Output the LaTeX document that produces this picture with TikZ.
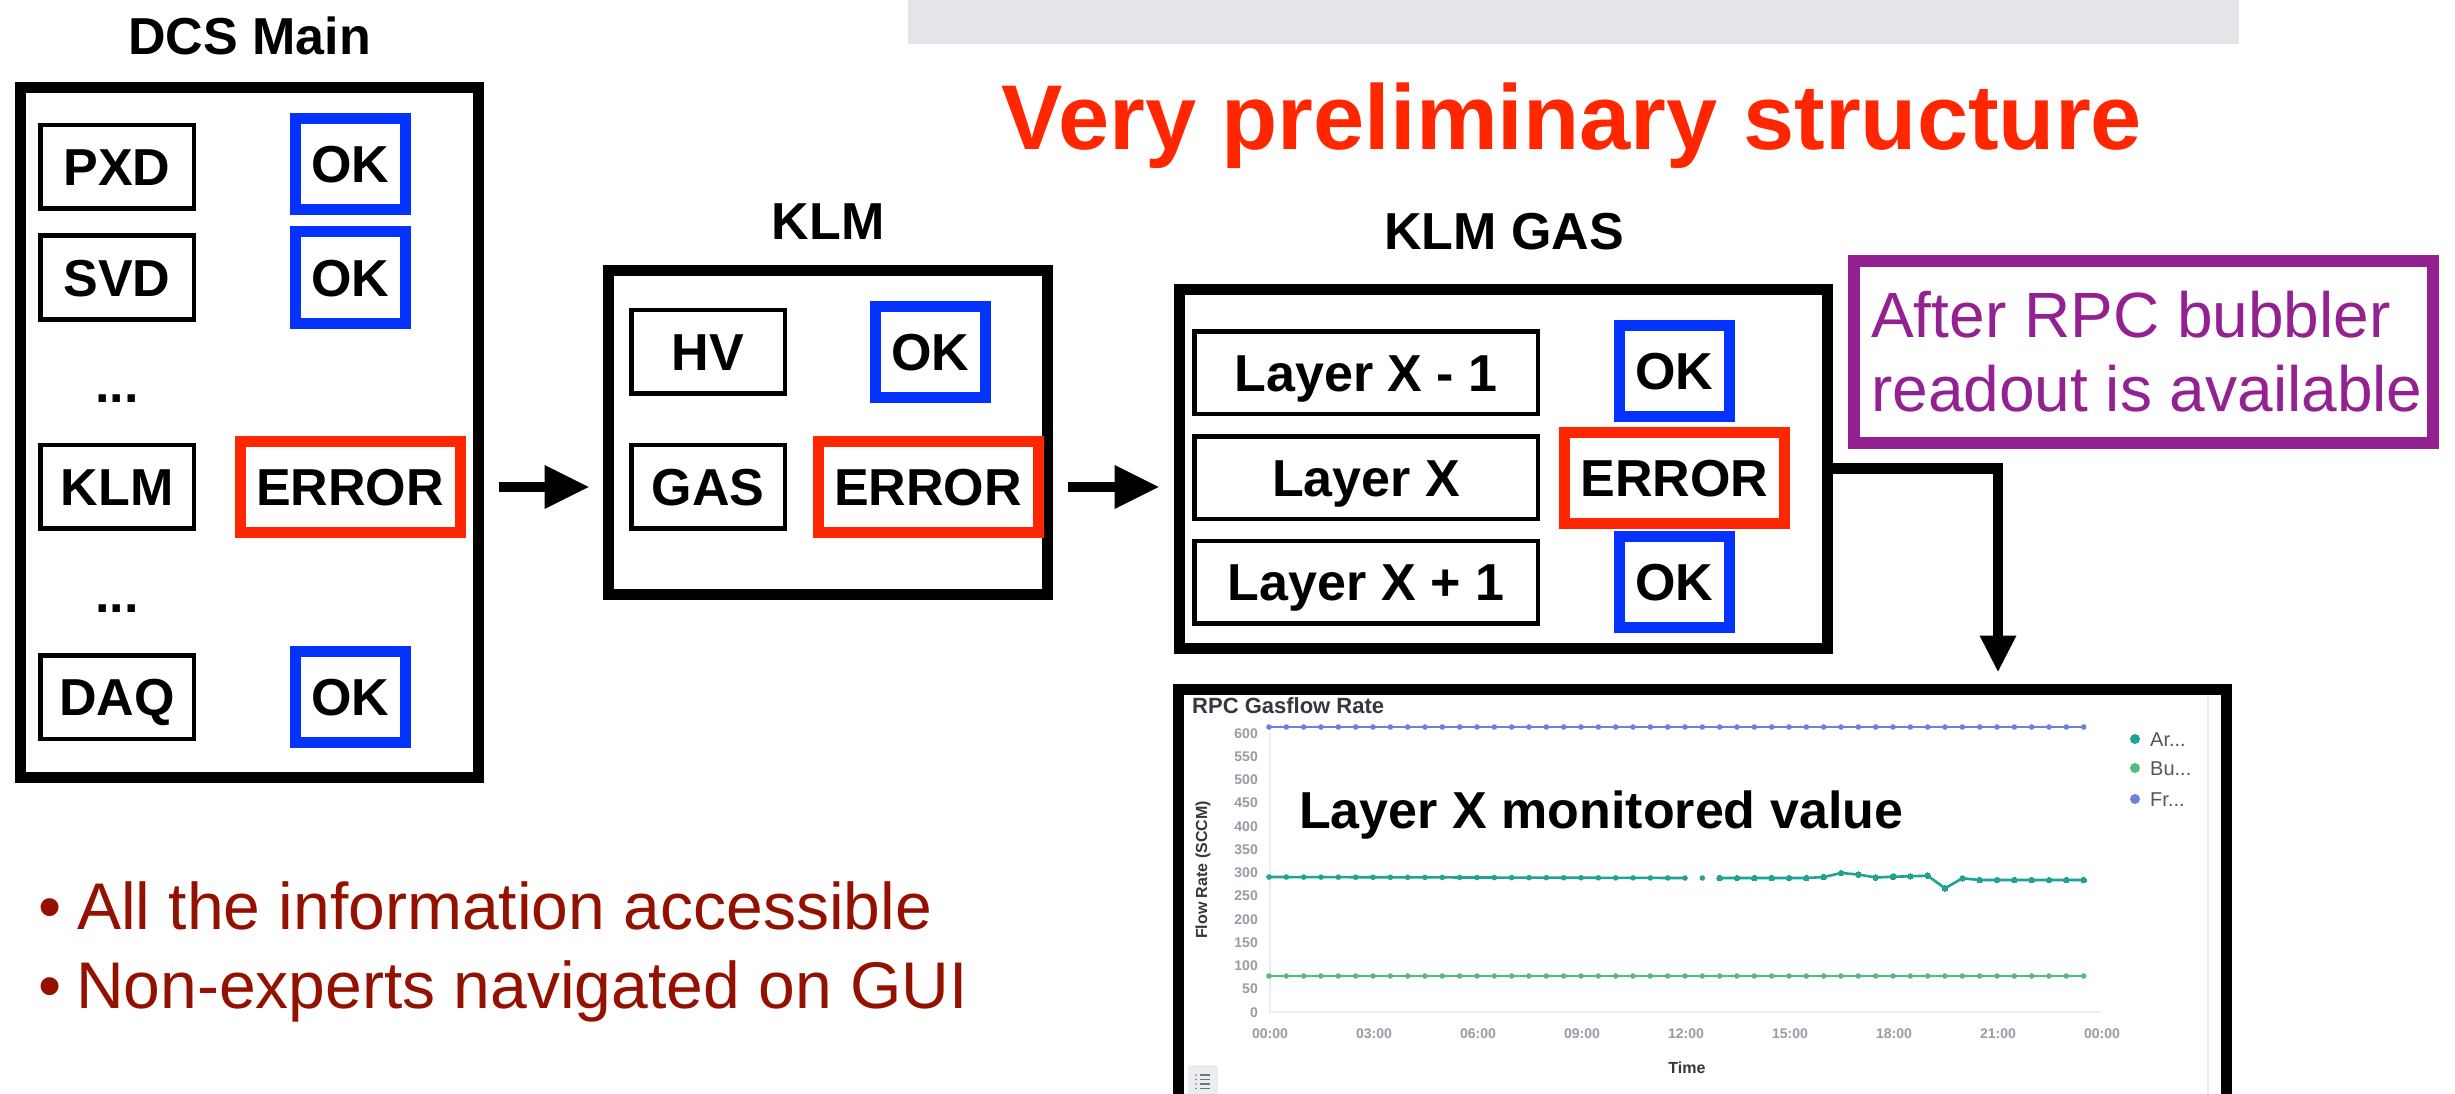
\documentclass[tikz,border=0pt]{standalone}
\usepackage{fontspec}
\setmainfont{Liberation Sans}
\usetikzlibrary{arrows.meta,calc}

\definecolor{okblue}{HTML}{0433FF}
\definecolor{errred}{HTML}{FF2600}
\definecolor{plum}{HTML}{942192}
\definecolor{cayenne}{HTML}{941100}
\definecolor{bargray}{HTML}{E4E5E9}
\definecolor{serblue}{HTML}{6A80DC}
\definecolor{serteal}{HTML}{1FA393}
\definecolor{sergreen}{HTML}{54BD7A}
\definecolor{axgray}{HTML}{969BA5}
\definecolor{ink}{HTML}{343741}
\definecolor{faint}{HTML}{ECEDF1}
\definecolor{icongray}{HTML}{6E7382}

\newcommand\fLbl{\fontsize{52}{62}\selectfont\bfseries}
\newcommand\fHead{\fontsize{92}{110}\selectfont\bfseries}
\newcommand\fNote{\fontsize{64}{76}\selectfont}
\newcommand\fBul{\fontsize{66}{79}\selectfont}
\newcommand\fChT{\fontsize{22}{26}\selectfont\bfseries}
\newcommand\fAx{\fontsize{14}{17}\selectfont\bfseries}
\newcommand\fAxT{\fontsize{16}{19}\selectfont\bfseries}
\newcommand\fLeg{\fontsize{20}{24}\selectfont}

\tikzset{
  grp/.style={draw, line width=11pt, inner sep=0pt},
  ttl/.style={font=\fLbl, anchor=base, inner sep=0pt},
  boxtext/.style={font=\fLbl, text height=37.2pt, text depth=0pt, inner sep=0pt},
  namebox/.style={boxtext, draw, line width=4.5pt, minimum width=153.5pt, minimum height=83.5pt},
  layerbox/.style={boxtext, draw, line width=4.5pt, minimum width=343.5pt, minimum height=82.5pt},
  okst/.style={boxtext, draw=okblue, line width=11pt, minimum width=110pt, minimum height=91pt},
  errst/.style={boxtext, draw=errred, line width=11pt, minimum width=220pt, minimum height=91pt},
  dotrow/.style={font=\fLbl, anchor=base, inner sep=0pt},
  fat/.style={line width=10.6pt, -{Triangle[length=44pt,width=44pt,line width=0pt]}},
  notetext/.style={font=\fNote, text=plum, anchor=base west, inner sep=0pt},
  bultext/.style={font=\fBul, text=cayenne, anchor=base west, inner sep=0pt},
  axl/.style={font=\fAx, text=axgray, inner sep=0pt},
  legtext/.style={font=\fLeg, text=ink!85, anchor=base west, inner sep=0pt},
  series/.style={line width=2.6pt, line join=round},
}

\begin{document}
\begin{tikzpicture}[x=1pt, y=-1pt]
\fill[white] (0,0) rectangle (2455,1094);
\useasboundingbox (0,0) rectangle (2455,1094);

% grey strip along the top edge
\fill[bargray] (908,0) rectangle (2239,44);

% heading
\node[font=\fHead, text=errred, anchor=base, inner sep=0pt] (head) at (1572,150) {Very preliminary structure};

% ---- DCS Main panel ----
\node[grp, minimum width=458pt, minimum height=690pt] (dcs) at (249.5,432.5) {};
\node[ttl] (dcsT) at (249.5,55) {DCS Main};
\node[namebox] (pxd) at (117,167) {PXD};
\node[okst] (pxdS) at (350.5,164) {OK};
\node[namebox] (svd) at (117,277.5) {SVD};
\node[okst] (svdS) at (350.5,277.5) {OK};
\node[dotrow] (dotsA) at (117,402) {...};
\node[namebox] (klmN) at (117,486.5) {KLM};
\node[errst] (klmS) at (350,487) {ERROR};
\node[dotrow] (dotsB) at (117,612) {...};
\node[namebox] (daq) at (117,697) {DAQ};
\node[okst] (daqS) at (350,696.5) {OK};

% ---- KLM panel ----
\node[grp, minimum width=439pt, minimum height=324pt] (klm) at (828,432.5) {};
\node[ttl] (klmT) at (828,240) {KLM};
\node[namebox] (hv) at (708,351.5) {HV};
\node[okst] (hvS) at (930,352) {OK};
\node[namebox] (gasN) at (708,486.5) {GAS};
\node[errst] (gasS) at (928,487) {ERROR};

% ---- KLM GAS panel ----
\node[grp, minimum width=648pt, minimum height=359pt] (gas) at (1503.5,469) {};
\node[ttl] (gasT) at (1504,250) {KLM GAS};
\node[layerbox] (lyA) at (1366,372.5) {Layer X - 1};
\node[layerbox] (lyB) at (1366,477.5) {Layer X};
\node[layerbox] (lyC) at (1366,582) {Layer X + 1};
\node[okst] (lyAS) at (1674.5,371) {OK};
\node[errst] (lyBS) at (1674.5,477.5) {ERROR};
\node[okst] (lyCS) at (1674.5,582) {OK};

% drill-down arrows
\draw[fat] ($(dcs.east |- klmS)+(14.5,0)$) -- ($(klm.west |- klmS)+(-14.5,0)$);
\draw[fat] ($(klm.east |- gasS)+(14.5,0)$) -- ($(gas.west |- gasS)+(-15.5,0)$);

% note box
\node[draw=plum, line width=12pt, minimum width=579pt, minimum height=182pt, inner sep=0pt] (note) at (2143.5,352) {};
\node[notetext] (noteA) at (1871,337) {After RPC bubbler};
\node[notetext] (noteB) at (1871,411) {readout is available};

% bullets
\node[bultext] (bulA) at (38,929) {•};
\node[bultext] (txtA) at (77,929) {All the information accessible};
\node[bultext] (bulB) at (38,1008) {•};
\node[bultext] (txtB) at (76,1008) {Non-experts navigated on GUI};

% ---- gas-flow chart ----
\node[draw, line width=11pt, minimum width=1048pt, minimum height=409.5pt, inner sep=0pt] (chart) at (1702.5,894.25) {};
\draw[faint, line width=1.5pt] (2208,695) -- (2208,1094);
\draw[faint, line width=1.5pt] (1270,733) -- (1270,1012) -- (2101,1012);

\node[font=\fChT, text=ink, anchor=base west, inner sep=0pt] (chT) at (1192,713) {RPC Gasflow Rate};
\foreach \v in {0,50,...,600}
  \node[axl, anchor=base east] at (1258,{1012-0.465*\v+5}) {\v};
\foreach \k/\s in {0/00:00,1/03:00,2/06:00,3/09:00,4/12:00,5/15:00,6/18:00,7/21:00,8/00:00}
  \node[axl, anchor=base] at ({1270+104*\k},1038) {\s};
\node[font=\fAxT, text=ink, rotate=90, inner sep=0pt] (yT) at (1203,870) {Flow Rate (SCCM)};
\node[font=\fAxT, text=ink, anchor=base, inner sep=0pt] (xT) at (1687,1073) {Time};

\begin{scope}[shift={(1269pt,0pt)}, x=34.667pt]
  % Fr
  \draw[serblue, series] (0,727) -- (23.5,727);
  \foreach \t in {0,0.5,...,23.5} \fill[serblue] (\t,727) circle[radius=2.8pt];
  % Bu
  \draw[sergreen, series] (0,976) -- (23.5,976);
  \foreach \t in {0,0.5,...,23.5} \fill[sergreen] (\t,976) circle[radius=2.8pt];
  % Ar
  \draw[serteal, series] (0,877) -- (12,878);
  \foreach \t in {0,0.5,...,12} \fill[serteal] (\t,{877+\t/12}) circle[radius=2.8pt];
  \fill[serteal] (12.5,878) circle[radius=2.8pt];
  \draw[serteal, series] plot[mark=*, mark size=2.8pt, mark options={line width=0pt}] coordinates {
    (13,878) (13.5,878) (14,878) (14.5,878) (15,878) (15.5,878) (16,877)
    (16.5,873) (17,874.5) (17.5,877.5) (18,876.7) (18.5,876.3) (19,875.7)
    (19.5,888.3) (20,878.3) (20.5,880) (21,880) (21.5,880) (22,880)
    (22.5,880) (23,880) (23.5,880)};
\end{scope}

% legend
\fill[serteal] (2135,739) circle[radius=5pt];
\fill[sergreen] (2135,768) circle[radius=5pt];
\fill[serblue] (2135,799) circle[radius=5pt];
\node[legtext] (legA) at (2150,746) {Ar...};
\node[legtext] (legB) at (2150,775) {Bu...};
\node[legtext] (legC) at (2150,806) {Fr...};

% list icon
\fill[faint, rounded corners=3pt] (1188,1065) rectangle (1218,1098);
\foreach \yy in {1075,1079.5,1084,1088.5} {
  \fill[icongray] (1196,\yy) circle[radius=0.9pt];
  \draw[icongray, line width=1.1pt] (1199.5,\yy) -- (1210,\yy);
}

\node[font=\fLbl, anchor=base west, inner sep=0pt] (mon) at (1299,828) {Layer X monitored value};

% link from the faulty layer down to its chart
\coordinate (bend) at (1998,468.5);
\draw[line width=10.5pt, -{Triangle[length=36pt,width=37pt,line width=0pt]}]
  (gas.east |- bend) -- (bend) -- ($(bend |- chart.north)+(0,-12.5)$);
\end{tikzpicture}
\end{document}
